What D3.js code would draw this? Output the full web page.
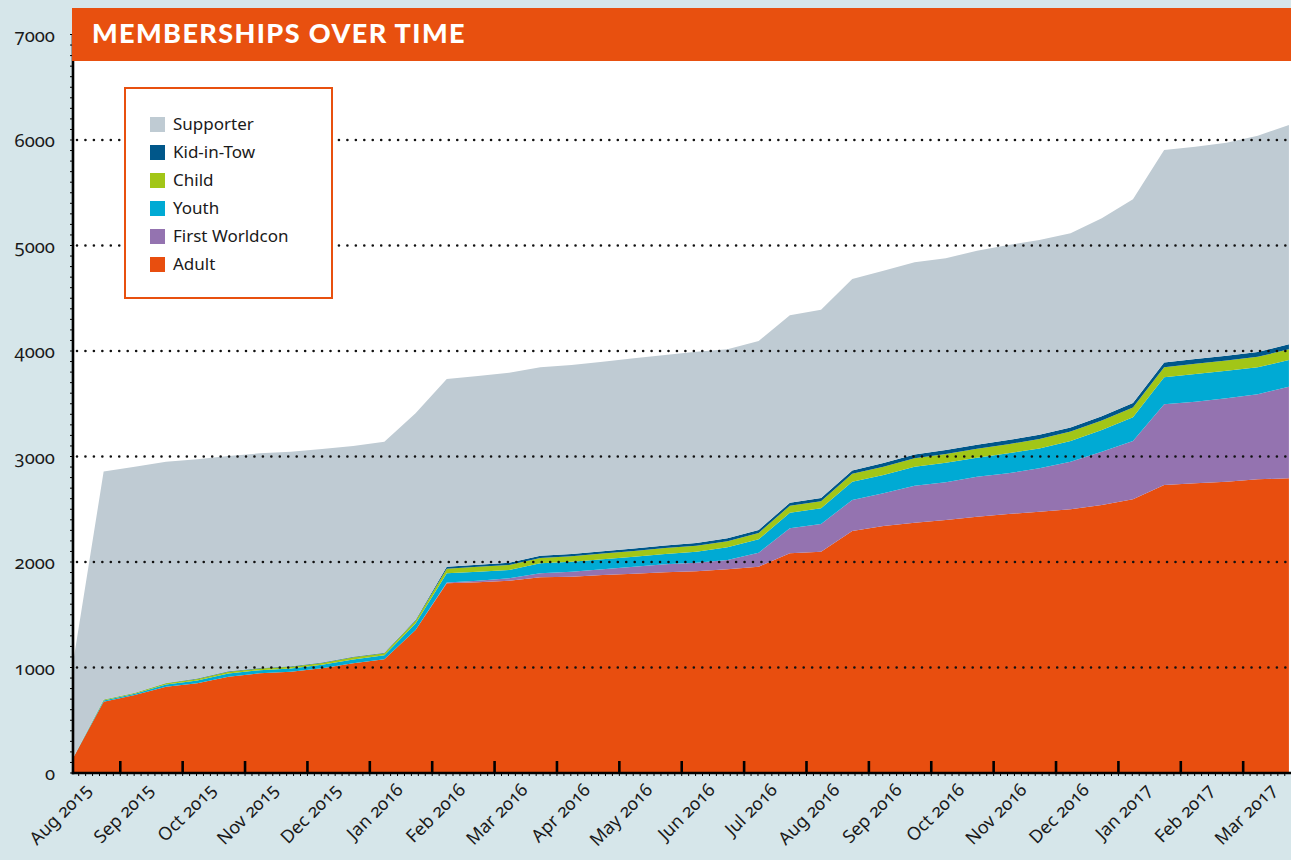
<!DOCTYPE html>
<html>
<head>
<meta charset="utf-8">
<script src="https://cdn.jsdelivr.net/npm/d3@7"></script>
<style>
  body { margin: 0; background: #d6e6ea; }
  svg { display: block; }
  .ylab, .xlab { font-family: "Noto Sans", sans-serif; fill: #1a1a1a; font-feature-settings: "onum"; }
  .legend text { font-family: "Noto Sans", sans-serif; font-size: 17px; fill: #1a1a1a; }
</style>
</head>
<body>
<div id="chart"></div>
<script>
// half-monthly snapshots
var dates = ["2015-08-08","2015-08-23","2015-09-08","2015-09-23","2015-10-08","2015-10-23",
  "2015-11-08","2015-11-23","2015-12-08","2015-12-23","2016-01-08","2016-01-23",
  "2016-02-08","2016-02-23","2016-03-08","2016-03-23","2016-04-08","2016-04-23",
  "2016-05-08","2016-05-23","2016-06-08","2016-06-23","2016-07-08","2016-07-23",
  "2016-08-08","2016-08-23","2016-09-08","2016-09-23","2016-10-08","2016-10-23",
  "2016-11-08","2016-11-23","2016-12-08","2016-12-23","2017-01-08","2017-01-23",
  "2017-02-08","2017-02-23","2017-03-08","2017-03-23"];

var adult = [130,676,739,818,850,913,945,960,992,1040,1078,1355,1798,1808,1823,1855,1861,1877,1889,1902,
  1912,1931,1956,2082,2098,2294,2341,2373,2398,2430,2455,2477,2499,2540,2594,2730,2746,2761,2784,2793];
var firstWorldcon = [0,0,0,0,0,0,0,0,0,0,0,1,7,15,22,38,47,54,67,76,
  82,88,132,237,262,294,310,350,357,379,386,411,452,506,553,765,774,790,806,869];
var youth = [2,12,13,21,27,31,30,31,33,37,37,60,88,85,79,95,95,95,94,98,
  104,120,127,148,149,173,174,180,186,180,189,189,196,205,225,256,262,262,255,253];
var child = [1,6,7,11,14,16,15,16,17,19,19,26,44,46,48,50,52,54,55,56,
  57,58,60,66,68,75,78,80,83,85,87,88,89,90,92,95,97,98,100,101];
var kidInTow = [0,2,2,3,4,5,5,5,5,6,6,8,18,19,20,21,22,23,24,25,
  26,27,28,29,30,31,35,36,37,38,39,40,40,41,42,44,45,45,46,48];
var supporter = [875,2161,2142,2098,2078,2040,2035,2034,2024,1998,2001,1960,1780,1790,1803,1786,1790,1796,1802,1805,
  1812,1792,1792,1778,1783,1815,1823,1822,1818,1839,1849,1847,1840,1876,1932,2015,2013,2019,2050,2078];

var keys = ["Adult", "First Worldcon", "Youth", "Child", "Kid-in-Tow", "Supporter"];
var colors = ["#e84e0f", "#9473b0", "#00aad4", "#a2c617", "#00578a", "#bfcbd3"];

var monthLabels = ["Aug 2015","Sep 2015","Oct 2015","Nov 2015","Dec 2015","Jan 2016","Feb 2016","Mar 2016",
  "Apr 2016","May 2016","Jun 2016","Jul 2016","Aug 2016","Sep 2016","Oct 2016","Nov 2016","Dec 2016",
  "Jan 2017","Feb 2017","Mar 2017"];
var yTicks = [0, 1000, 2000, 3000, 4000, 5000, 6000, 7000];

var W = 1291, H = 860;
var plotL = 73, plotR = 1290, plotB = 773, plotT = 34.5;

// months counted from Aug 1 2015, every month the same width
function monthPos(s) {
  var p = s.split("-");
  return (+p[0] - 2015) * 12 + (+p[1] - 8) + (+p[2] - 1) / 30;
}

var rows = dates.map(function (d, i) {
  return {date: d, "Adult": adult[i], "First Worldcon": firstWorldcon[i], "Youth": youth[i],
    "Child": child[i], "Kid-in-Tow": kidInTow[i], "Supporter": supporter[i]};
});

var x = d3.scaleLinear().domain([0, 20]).range([57.9, 57.9 + 62.383 * 20]);
var y = d3.scaleLinear().domain([0, 7000]).range([plotB, plotT]);

var svg = d3.select("#chart").append("svg")
    .attr("width", W)
    .attr("height", H);

// plot background
svg.append("rect")
    .attr("x", plotL).attr("y", 40)
    .attr("width", W - plotL).attr("height", plotB - 40)
    .attr("fill", "#fff");

svg.append("clipPath").attr("id", "plotclip")
  .append("rect")
    .attr("x", plotL).attr("y", 0)
    .attr("width", plotR - plotL).attr("height", plotB);

var series = d3.stack().keys(keys)(rows);

var area = d3.area()
    .x(function (d) { return x(monthPos(d.data.date)); })
    .y0(function (d) { return y(d[0]); })
    .y1(function (d) { return y(d[1]); });

svg.append("g")
    .attr("clip-path", "url(#plotclip)")
  .selectAll("path")
    .data(series)
  .enter().append("path")
    .attr("fill", function (d, i) { return colors[i]; })
    .attr("d", area);

// dotted grid
svg.append("g")
  .selectAll("line")
    .data(yTicks.filter(function (t) { return t > 0; }))
  .enter().append("line")
    .attr("x1", plotL + 4).attr("x2", W)
    .attr("y1", function (d) { return y(d); })
    .attr("y2", function (d) { return y(d); })
    .attr("stroke", "#111")
    .attr("stroke-width", 2.6)
    .attr("stroke-linecap", "round")
    .attr("stroke-dasharray", "0,8.45");

// y labels
svg.append("g")
  .selectAll("text")
    .data(yTicks)
  .enter().append("text")
    .attr("class", "ylab")
    .attr("x", 55)
    .attr("y", function (d) { return y(d); })
    .attr("dy", "0.38em")
    .attr("text-anchor", "end")
    .style("font-size", "18.5px")
    .text(function (d) { return d; });

// axes
var axisG = svg.append("g").attr("stroke", "#000");

// minor ticks on y
axisG.selectAll(".ym")
    .data(d3.range(0, 7001, 100))
  .enter().append("line")
    .attr("x1", plotL - 3).attr("x2", plotL)
    .attr("y1", function (d) { return y(d); })
    .attr("y2", function (d) { return y(d); })
    .attr("stroke-width", 1);

// minor ticks on x
axisG.selectAll(".xm")
    .data(d3.range(0, 20.01, 1 / 9))
  .enter().append("line")
    .attr("x1", function (d) { return x(d); })
    .attr("x2", function (d) { return x(d); })
    .attr("y1", plotB).attr("y2", plotB + 3)
    .attr("stroke-width", 1)
    .attr("display", function (d) { return (x(d) < plotL || x(d) > W) ? "none" : null; });

// month ticks
axisG.selectAll(".xt")
    .data(d3.range(1, 20))
  .enter().append("line")
    .attr("x1", function (d) { return x(d); })
    .attr("x2", function (d) { return x(d); })
    .attr("y1", plotB).attr("y2", plotB - 12)
    .attr("stroke-width", 2.6);

axisG.append("line")
    .attr("x1", plotL).attr("x2", plotL)
    .attr("y1", plotT).attr("y2", plotB + 1.3)
    .attr("stroke-width", 2.6);
axisG.append("line")
    .attr("x1", plotL - 1.3).attr("x2", W)
    .attr("y1", plotB).attr("y2", plotB)
    .attr("stroke-width", 2.6);

// month labels at mid-month
svg.append("g")
  .selectAll("text")
    .data(monthLabels)
  .enter().append("text")
    .attr("class", "xlab")
    .attr("text-anchor", "end")
    .style("font-size", "18px")
    .attr("transform", function (d, i) {
      return "translate(" + (x(i + 0.5) + 3) + "," + 791 + ") rotate(-45)";
    })
    .text(function (d) { return d; });

// title bar
svg.append("rect")
    .attr("x", 72).attr("y", 8)
    .attr("width", W - 72).attr("height", 53)
    .attr("fill", "#e8500f");
svg.append("text")
    .attr("x", 92).attr("y", 42.5)
    .attr("fill", "#fff")
    .style("font-family", "Lato, sans-serif")
    .style("font-weight", "900")
    .style("font-size", "27px")
    .style("letter-spacing", "1.4px")
    .text("MEMBERSHIPS OVER TIME");

// legend
var legend = svg.append("g").attr("class", "legend");
legend.append("rect")
    .attr("x", 125).attr("y", 88)
    .attr("width", 207).attr("height", 210)
    .attr("fill", "#fff")
    .attr("stroke", "#e8500f")
    .attr("stroke-width", 2);

var legendKeys = keys.slice().reverse();
var item = legend.selectAll(".item")
    .data(legendKeys)
  .enter().append("g")
    .attr("transform", function (d, i) { return "translate(150," + (117 + i * 28) + ")"; });
item.append("rect")
    .attr("width", 15).attr("height", 15)
    .attr("fill", function (d) { return colors[keys.indexOf(d)]; });
item.append("text")
    .attr("x", 23).attr("y", 13)
    .text(function (d) { return d; });
</script>
</body>
</html>
